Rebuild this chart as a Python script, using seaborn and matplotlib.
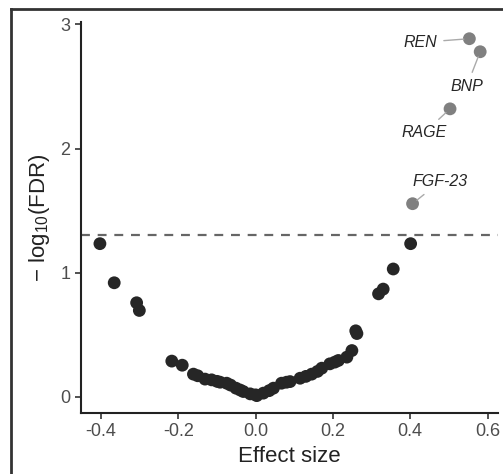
import numpy as np
import pandas as pd
import seaborn as sns
import matplotlib
import matplotlib.pyplot as plt
from matplotlib.lines import Line2D
matplotlib.use('Agg')

# effect size and -log10(FDR)
effect = [-0.403, -0.366, -0.308, -0.301, -0.217, -0.190, -0.161, -0.150,
          -0.131, -0.114, -0.100, -0.092, -0.075, -0.065, -0.051, -0.040,
          -0.032, -0.014, 0.003, 0.000, 0.020, 0.035, 0.046, 0.067, 0.080,
          0.089, 0.115, 0.130, 0.145, 0.160, 0.171, 0.192, 0.205, 0.214,
          0.236, 0.249, 0.259, 0.262, 0.318, 0.330, 0.356, 0.401,
          0.406, 0.503, 0.553, 0.581]
neglog_fdr = [1.234, 0.919, 0.758, 0.696, 0.288, 0.255, 0.183, 0.170,
              0.143, 0.137, 0.125, 0.118, 0.110, 0.095, 0.070, 0.055,
              0.043, 0.024, 0.010, 0.016, 0.030, 0.050, 0.070, 0.110, 0.118,
              0.123, 0.150, 0.165, 0.183, 0.205, 0.231, 0.266, 0.280, 0.293,
              0.320, 0.373, 0.532, 0.510, 0.830, 0.868, 1.030, 1.234,
              1.556, 2.320, 2.885, 2.780]
labels = {'FGF-23': 42, 'RAGE': 43, 'REN': 44, 'BNP': 45}
fdr_cut = 0.05

df = pd.DataFrame({'effect': effect, 'nlfdr': neglog_fdr})
df['sig'] = np.where(df['nlfdr'] > -np.log10(fdr_cut), 'yes', 'no')

plt.rcParams['font.family'] = ['Liberation Sans', 'DejaVu Sans']
plt.rcParams['mathtext.default'] = 'regular'

fig = plt.figure(figsize=(5.03, 4.74), dpi=100)
ax = fig.add_axes([0.161, 0.1287, 0.829, 0.825])

sns.scatterplot(data=df, x='effect', y='nlfdr', hue='sig',
                palette={'no': '#262626', 'yes': '#808080'},
                s=85, linewidth=0, legend=False, ax=ax, zorder=3)

ax.axhline(-np.log10(fdr_cut), color='#666666', lw=1.6, ls=(0, (4, 3.5)), zorder=1)

# label placement (text anchor in data coordinates)
label_pos = {'REN': (0.469, 2.855, 'right'), 'BNP': (0.546, 2.50, 'center'),
             'RAGE': (0.437, 2.13, 'center'), 'FGF-23': (0.477, 1.734, 'center')}
for name, i in labels.items():
    tx, ty, ha = label_pos[name]
    ax.annotate(name, xy=(df['effect'][i], df['nlfdr'][i]), xytext=(tx, ty),
                ha=ha, va='center', fontsize=11.5, style='italic', color='#262626',
                arrowprops=dict(arrowstyle='-', color='#aaaaaa', lw=1,
                                shrinkA=3, shrinkB=4))

ax.set_xlim(-0.452, 0.627)
ax.set_ylim(-0.13, 3.02)
ax.set_xticks([-0.4, -0.2, 0.0, 0.2, 0.4, 0.6])
ax.set_xticklabels(['-0.4', '-0.2', '0.0', '0.2', '0.4', '0.6'])
ax.set_yticks([0, 1, 2, 3])
ax.tick_params(colors='#333333', labelcolor='#4d4d4d', labelsize=13,
               length=4, width=1.2, pad=3.5)
for side in ['top', 'right']:
    ax.spines[side].set_visible(False)
for side in ['left', 'bottom']:
    ax.spines[side].set_linewidth(1.5)
    ax.spines[side].set_color('#222222')

ax.set_xlabel('Effect size', fontsize=16, color='#222222', labelpad=4)
ax.set_ylabel('\u2212 log$_{10}$(FDR)', fontsize=16, color='#222222', labelpad=6)

# frame around the panel (left and top edges of the crop)
fig.add_artist(Line2D([0.022, 0.022], [0, 0.981], color='#333333', lw=2))
fig.add_artist(Line2D([0.022, 1.0], [0.981, 0.981], color='#333333', lw=2))

plt.savefig('out.png', dpi=100)
